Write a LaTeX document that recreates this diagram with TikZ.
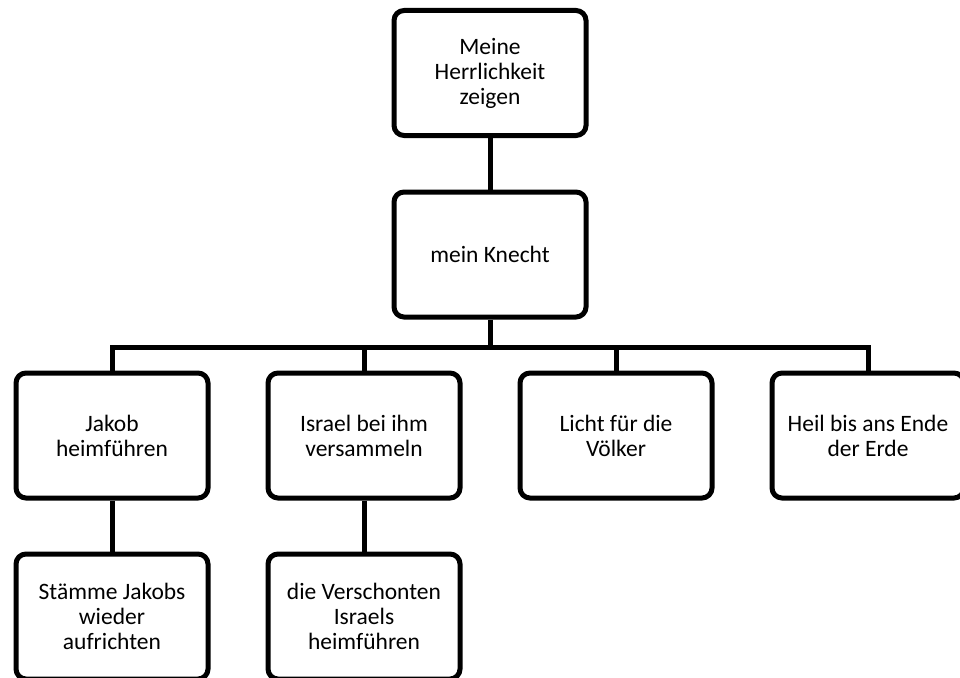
\documentclass[tikz,border=0pt]{standalone}
\usepackage{fontspec}
\setmainfont{Carlito}
\begin{document}
\begin{tikzpicture}[x=1pt, y=-1pt,
  box/.style={draw, line width=5pt, rounded corners=10pt, fill=white,
    minimum width=192pt, minimum height=125pt, align=center,
    font=\fontsize{23.5}{25}\selectfont},
  link/.style={line width=5pt}]
\useasboundingbox (0,0) rectangle (960,677) ;

\node [box] (herr)   at (490,73)    {Meine\\Herrlichkeit\\zeigen} ;
\node [box] (knecht) at (490,254.5) {mein Knecht} ;

\node [box] (jakob)  at (112,435.5) {Jakob\\heimführen} ;
\node [box] (israel) at (364,435.5) {Israel bei ihm\\versammeln} ;
\node [box] (licht)  at (616,435.5) {Licht für die\\Völker} ;
\node [box] (heil)   at (868,435.5) {Heil bis ans Ende\\der Erde} ;

\node [box] (staemme) at (112,616.5) {Stämme Jakobs\\wieder\\aufrichten} ;
\node [box] (rest)    at (364,616.5) {die Verschonten\\Israels\\heimführen} ;

\draw [link] (herr) -- (knecht) ;
\draw [link] (knecht.south) -- ++(0,27.5) coordinate (bus) ;
\draw [link] (jakob.north) |- (bus) -| (heil.north) ;
\draw [link] (israel.north) -- (israel.north |- bus) ;
\draw [link] (licht.north) -- (licht.north |- bus) ;

\draw [link] (jakob) -- (staemme) ;
\draw [link] (israel) -- (rest) ;

\end{tikzpicture}
\end{document}
